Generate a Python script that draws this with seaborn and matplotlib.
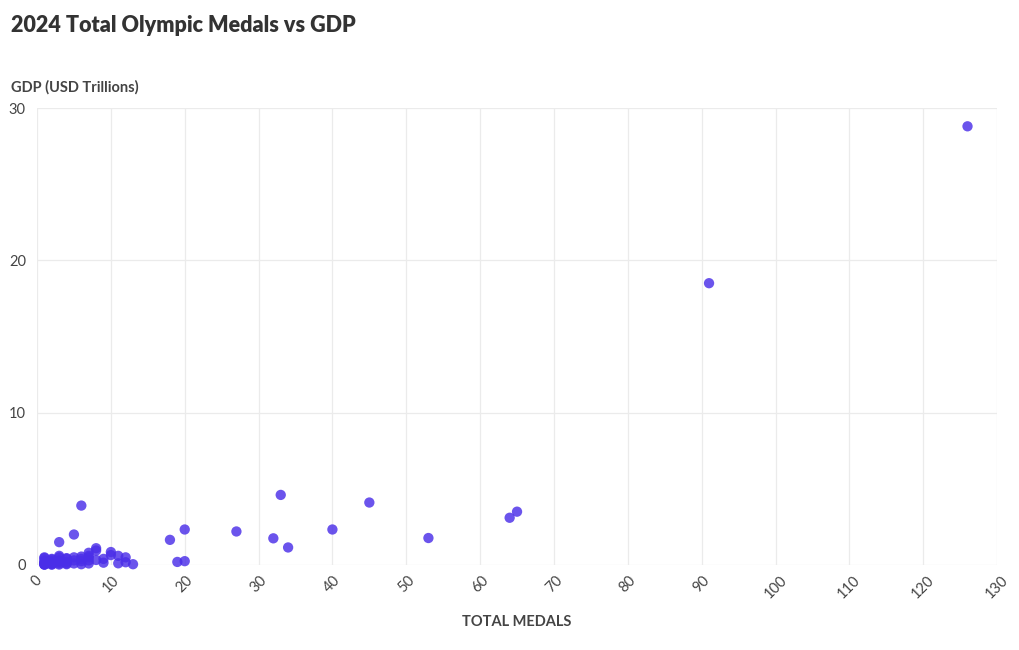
import numpy as np
import pandas as pd
import seaborn as sns
import matplotlib.pyplot as plt

### values (one entry per country)
total_medals = [126, 91, 65, 64, 53, 45, 40, 34, 33, 32, 27, 20, 20, 19, 18,
                13, 12, 12, 11, 11, 10, 10, 9, 9, 8, 8, 8,
                7, 7, 7, 7, 7, 6, 6, 6, 6, 6, 5, 5, 5, 5,
                4, 4, 4, 4, 4, 3, 3, 3, 3, 3, 3, 3,
                2, 2, 2, 2, 2, 2, 2, 1, 1, 1, 1, 1, 1, 1, 1, 1, 1]
gdp_trillions = [28.8, 18.5, 3.5, 3.1, 1.77, 4.1, 2.33, 1.15, 4.6, 1.75, 2.2, 2.33, 0.25, 0.2, 1.65,
                 0.05, 0.5, 0.18, 0.6, 0.11, 0.85, 0.65, 0.4, 0.15, 1.1, 0.95, 0.33,
                 0.8, 0.5, 0.1, 0.3, 0.6, 3.9, 0.55, 0.05, 0.25, 0.4, 2.0, 0.5, 0.1, 0.3,
                 0.4, 0.05, 0.2, 0.45, 0.1, 1.5, 0.5, 0.1, 0.03, 0.3, 0.2, 0.6,
                 0.05, 0.4, 0.1, 0.25, 0.02, 0.35, 0.15, 0.05, 0.02, 0.3, 0.45, 0.1, 0.2, 0.03, 0.5, 0.08, 0.15]

df = pd.DataFrame({"medals": total_medals, "gdp": gdp_trillions})

sns.set_theme(style="white")
plt.rcParams['font.family'] = ['Lato', 'DejaVu Sans']

fig = plt.figure(figsize=(10.2, 6.5), dpi=100)
ax = fig.add_axes([0.0363, 0.1308, 0.9412, 0.703])

sns.scatterplot(data=df, x="medals", y="gdp", ax=ax, s=55, color="#4a2ee8",
                alpha=0.82, edgecolor="none", zorder=3, clip_on=False)

ax.set_xlim(0, 130)
ax.set_ylim(0, 30)
ax.set_xticks(np.arange(0, 131, 10))
ax.set_yticks([0, 10, 20, 30])
ax.grid(True, color="#ebebeb", linewidth=0.9)
for s in ax.spines.values():
    s.set_visible(False)
ax.tick_params(axis="both", length=0, labelsize=10.5, colors="#444444")
ax.tick_params(axis="y", pad=8)
ax.tick_params(axis="x", pad=6)
plt.setp(ax.get_xticklabels(), rotation=45, ha="center", va="top")

ax.set_xlabel("")
ax.set_ylabel("")
fig.text(0.011, 0.96, "2024 Total Olympic Medals vs GDP", fontsize=15.5, fontweight="heavy",
         color="#333333", va="center", ha="left")
fig.text(0.011, 0.866, "GDP (USD Trillions)", fontsize=10.5, fontweight="bold",
         color="#444444", va="center", ha="left")
fig.text(0.507, 0.043, "TOTAL MEDALS", fontsize=10.5, fontweight="bold",
         color="#444444", va="center", ha="center")

fig.savefig("out.png", dpi=100, facecolor="white")
